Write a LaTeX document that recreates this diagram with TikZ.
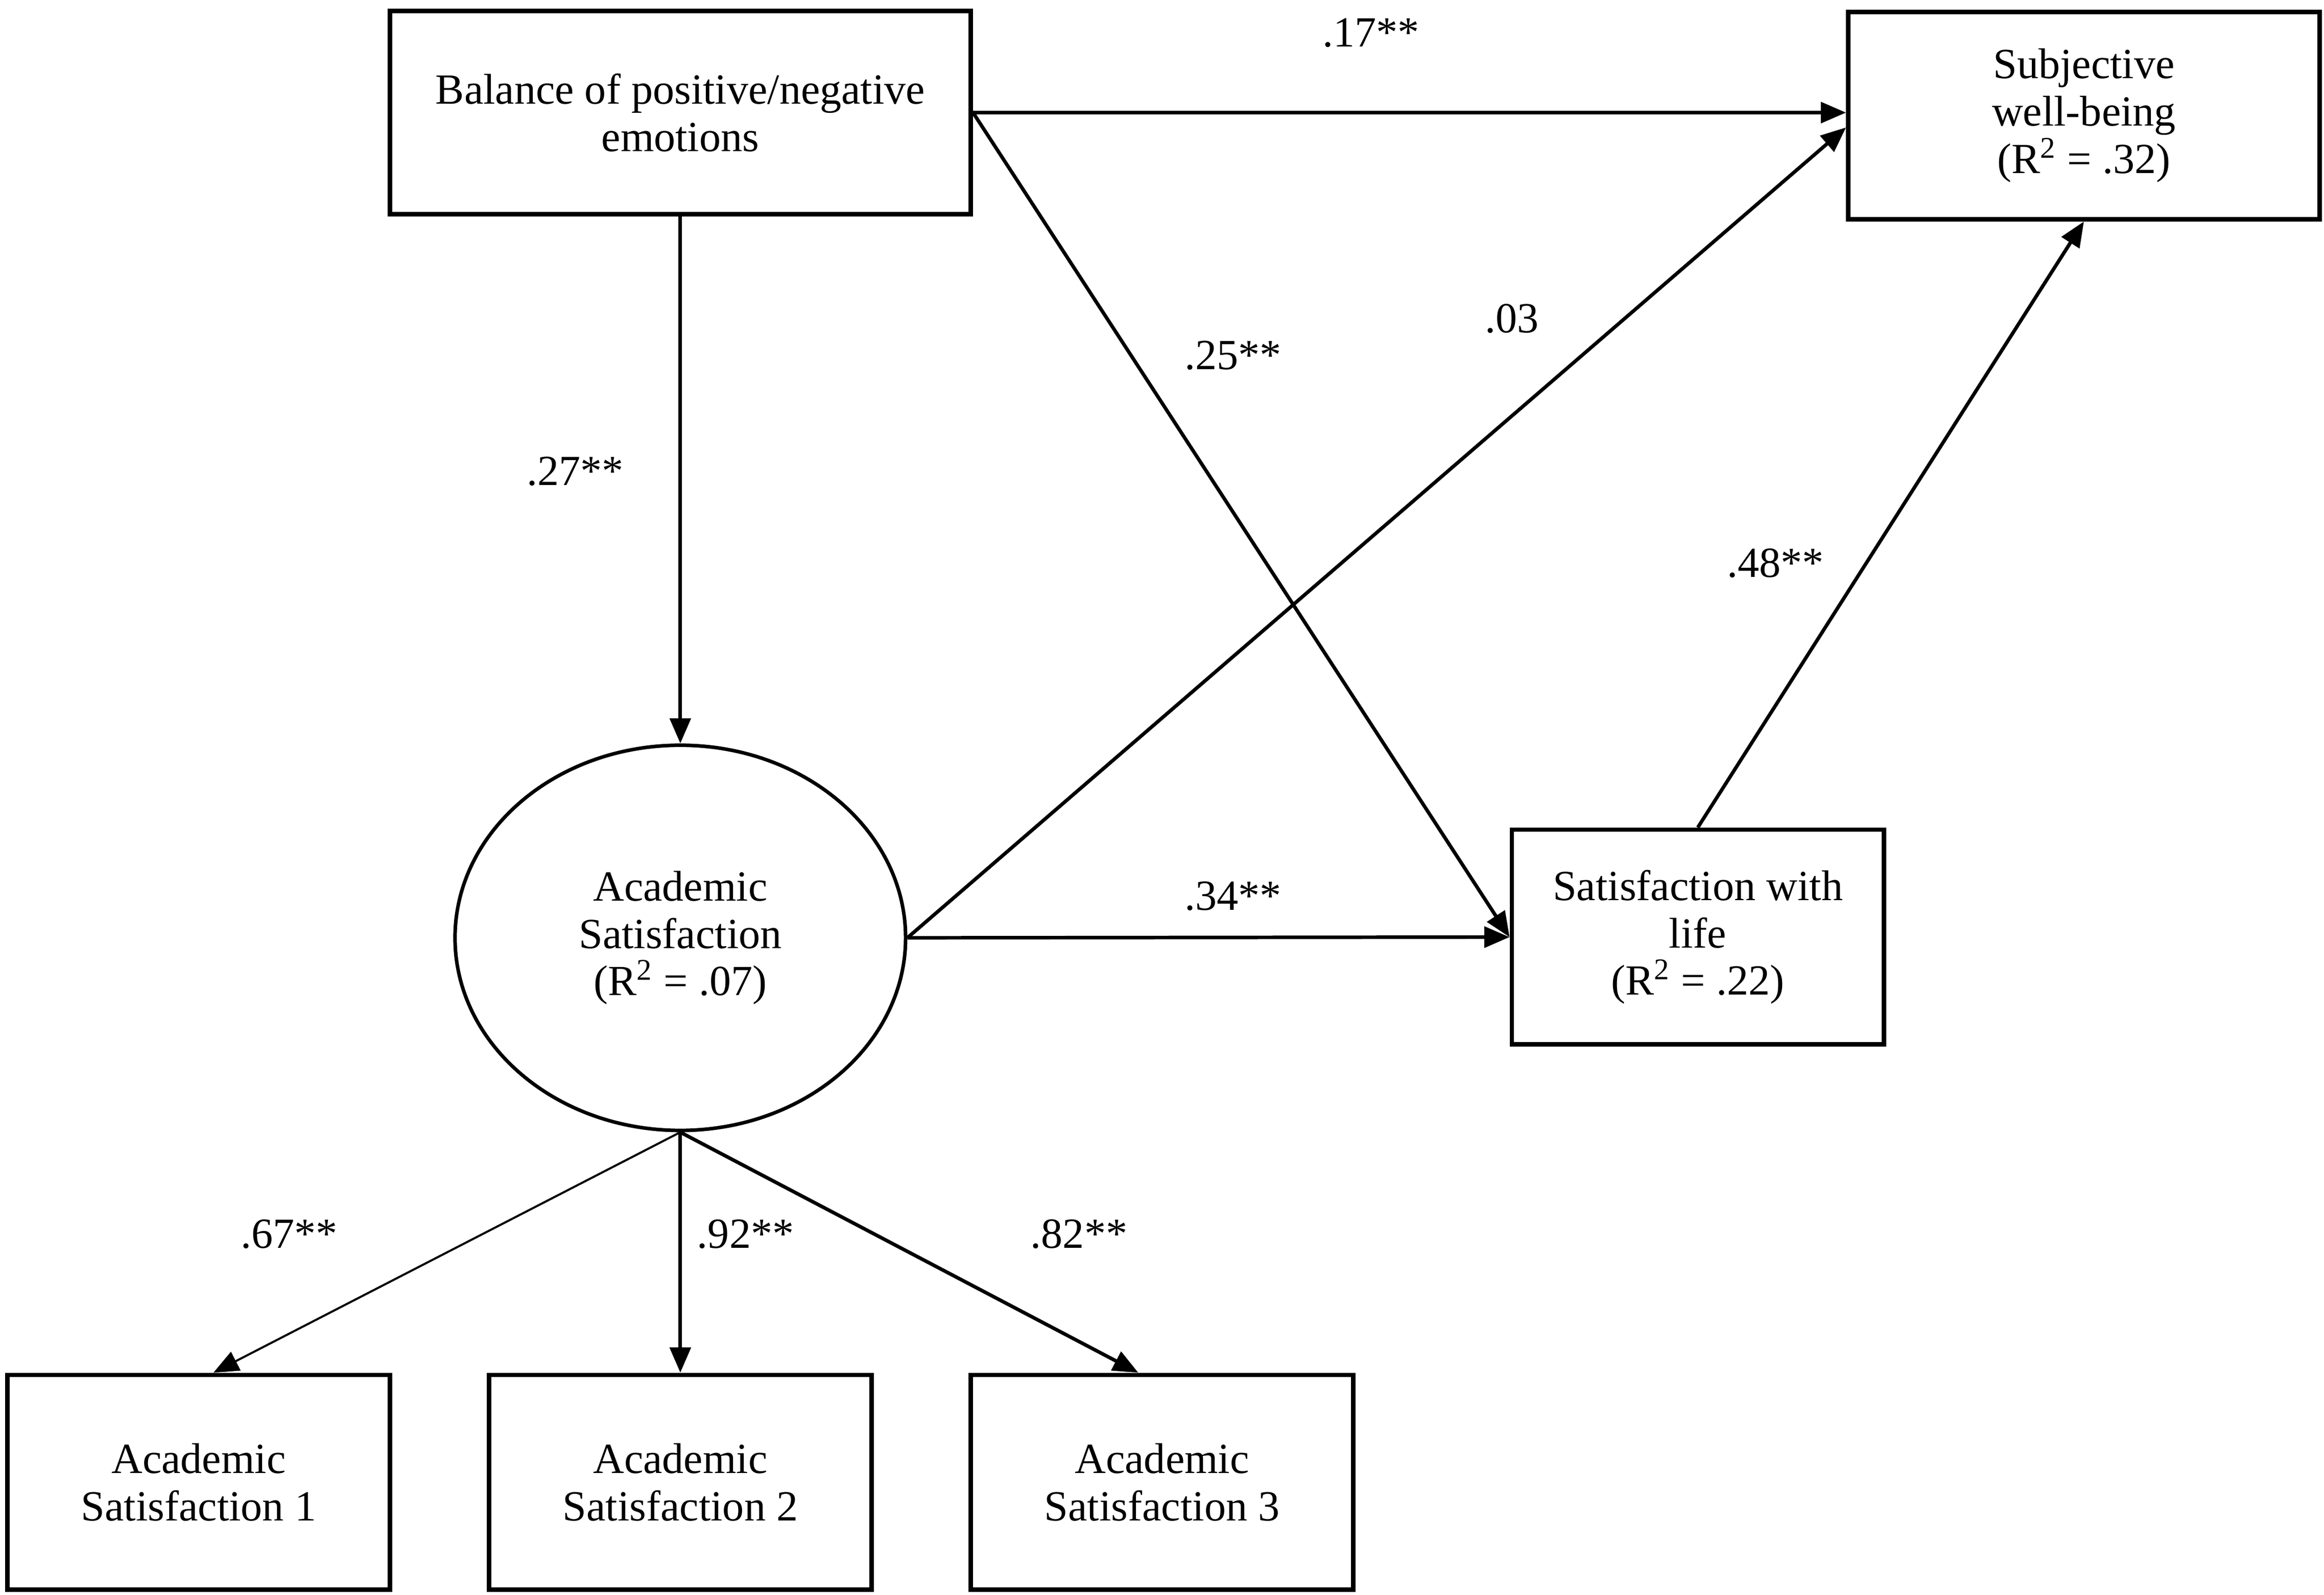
\documentclass[tikz,border=0pt]{standalone}
\usepackage{fontspec}
\setmainfont{Liberation Serif}
\usetikzlibrary{arrows.meta,shapes.geometric}

\tikzset{every picture/.style={line width=0.75pt}}
\tikzset{
	obsbox/.style={draw, line width=1.5pt, inner sep=0pt, align=center, font=\fontsize{14.5}{16}\selectfont},
	latent/.style={draw, ellipse, line width=1.2pt, inner sep=0pt, minimum width=152pt, minimum height=130pt, align=center, font=\fontsize{14.5}{16}\selectfont},
	pathto/.style={line width=1.2pt, -{Triangle[length=8.5pt,width=7pt]}},
	coef/.style={font=\fontsize{14.5}{16}\selectfont}
}

\begin{document}
\begin{tikzpicture}[x=0.5pt,y=0.5pt,yscale=-1,xscale=1]
	\useasboundingbox (0,0) rectangle (1568,1076.5);

	%observed and latent variables
	\draw (459,76) node [obsbox, minimum width=196pt, minimum height=68.5pt] (bal) {Balance of positive/negative\\emotions};
	\draw (1406,78) node [obsbox, minimum width=159pt, minimum height=70pt] (swb) {Subjective\\well-being\\(R\textsuperscript{2} = .32)};
	\draw (459,633) node [latent] (acs) {Academic\\Satisfaction\\(R\textsuperscript{2} = .07)};
	\draw (1145.5,632.5) node [obsbox, minimum width=125.5pt, minimum height=72.5pt] (swl) {Satisfaction with\\life\\(R\textsuperscript{2} = .22)};
	\draw (134,1000.5) node [obsbox, minimum width=129pt, minimum height=72.5pt] (item1) {Academic\\Satisfaction 1};
	\draw (459,1000.5) node [obsbox, minimum width=129pt, minimum height=72.5pt] (item2) {Academic\\Satisfaction 2};
	\draw (784,1000.5) node [obsbox, minimum width=129pt, minimum height=72.5pt] (item3) {Academic\\Satisfaction 3};

	%structural paths
	\draw [pathto] (bal.south) -- (acs.north);
	\draw [pathto] (bal.east) -- (bal.east -| swb.west);
	\draw [pathto] (bal.east) -- (swl.west);
	\draw [pathto] (acs.east) -- ([yshift=4]swb.west);
	\draw [pathto] (acs.east) -- (swl.west);
	\draw [pathto] (swl.north) -- (swb.south);

	%measurement paths
	\draw [pathto, line width=0.7pt] (acs.south) -- ([xshift=5]item1.north);
	\draw [pathto] (acs.south) -- (item2.north);
	\draw [pathto] (acs.south) -- ([xshift=-8]item3.north);

	%coefficients
	\draw (925,22) node [coef] (c17) {.17**};
	\draw (832,240) node [coef] (c25) {.25**};
	\draw (1020,215) node [coef] (c03) {.03};
	\draw (388,318) node [coef] (c27) {.27**};
	\draw (1198,380) node [coef] (c48) {.48**};
	\draw (832,605) node [coef] (c34) {.34**};
	\draw (195,833) node [coef] (c67) {.67**};
	\draw (503,833) node [coef] (c92) {.92**};
	\draw (728,833) node [coef] (c82) {.82**};

\end{tikzpicture}
\end{document}
